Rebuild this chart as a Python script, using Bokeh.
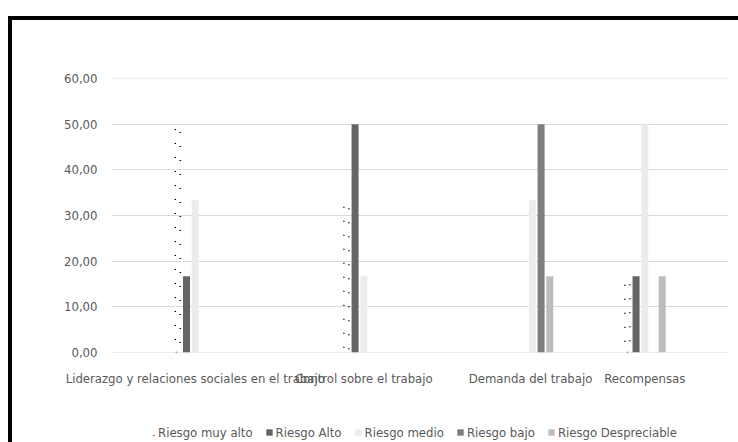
from bokeh.plotting import figure
from bokeh.models import FixedTicker, Range1d, Legend, LegendItem, ColumnDataSource
from bokeh.layouts import column
from bokeh.embed import file_html
from bokeh.resources import INLINE
from bokeh.transform import dodge

categories = ["Liderazgo y relaciones sociales en el trabajo", "Control sobre el trabajo",
              "Demanda  del trabajo", "Recompensas"]
cat_pos = [0, 3, 6, 8]
series_names = ["Riesgo muy alto", "Riesgo Alto", "Riesgo medio", "Riesgo bajo", "Riesgo Despreciable"]
riesgo_muy_alto = [50.00, 33.33, 0.00, 16.67]
riesgo_alto = [16.67, 50.00, 0.00, 16.67]
riesgo_medio = [33.33, 16.67, 33.33, 50.00]
riesgo_bajo = [0.00, 0.00, 50.00, 0.00]
riesgo_despreciable = [0.00, 0.00, 16.67, 16.67]
y_ticks = [0, 10, 20, 30, 40, 50, 60]
y_tick_labels = ["0,00", "10,00", "20,00", "30,00", "40,00", "50,00", "60,00"]

FONT = "'DejaVu Sans Condensed', 'Liberation Sans', sans-serif"
FSIZE = "13px"
TXT = "#595959"

src = ColumnDataSource(dict(x=cat_pos, muy_alto=riesgo_muy_alto, alto=riesgo_alto,
                            medio=riesgo_medio, bajo=riesgo_bajo, desp=riesgo_despreciable))

x_range = Range1d(-1.49, 9.49)
p = figure(width=726, height=382, output_backend="svg", toolbar_location=None,
           x_range=x_range, y_range=Range1d(0, 60),
           min_border_left=99, min_border_right=10, min_border_top=58, min_border_bottom=50)
p.outline_line_color = None
p.xgrid.grid_line_color = None
p.ygrid.grid_line_color = None

# horizontal gridlines at the tick values
p.hspan(y=y_ticks, line_color="#d9d9d9", line_width=1)

# legend strip: same glyphs, value range far outside the data so only the legend shows
p_leg = figure(width=726, height=40, output_backend="svg", toolbar_location=None,
               x_range=x_range, y_range=Range1d(1000, 1001),
               x_axis_type=None, y_axis_type=None,
               min_border_left=99, min_border_right=10, min_border_top=0, min_border_bottom=0)
p_leg.outline_line_color = None
p_leg.xgrid.grid_line_color = None
p_leg.ygrid.grid_line_color = None

step = 0.155
cols = ["muy_alto", "alto", "medio", "bajo", "desp"]
colors = [None, "#656565", "#ececec", "#7f7f7f", "#bcbcbc"]
dotted = dict(fill_alpha=0.0, line_color="black", line_width=1.5,
              line_dash="1 13", line_dash_offset=1)

leg_renderers = []
for i, c in enumerate(cols):
    off = (i - 2) * step
    for fig in (p, p_leg):
        if c == "muy_alto":
            r = fig.vbar(x=dodge("x", off, range=x_range), top=c, width=0.09, source=src, **dotted)
        else:
            r = fig.vbar(x=dodge("x", off, range=x_range), top=c, width=0.125, source=src,
                         fill_color=colors[i], line_color=None)
    leg_renderers.append(r)

p.yaxis.ticker = FixedTicker(ticks=y_ticks)
p.yaxis.major_label_overrides = {t: l for t, l in zip(y_ticks, y_tick_labels)}
p.xaxis.ticker = FixedTicker(ticks=cat_pos)
p.xaxis.major_label_overrides = {t: l for t, l in zip(cat_pos, categories)}
for ax in (p.xaxis, p.yaxis):
    ax.axis_line_color = None
    ax.major_tick_line_color = None
    ax.minor_tick_line_color = None
    ax.major_tick_out = 0
    ax.major_tick_in = 0
    ax.major_label_text_font = FONT
    ax.major_label_text_font_size = FSIZE
    ax.major_label_text_color = TXT
p.yaxis.major_label_standoff = 14
p.xaxis.major_label_standoff = 18

legend = Legend(items=[LegendItem(label=n, renderers=[r]) for n, r in zip(series_names, leg_renderers)],
                orientation="horizontal", location=(36, 2),
                label_text_font=FONT, label_text_font_size=FSIZE, label_text_color=TXT,
                glyph_width=8, glyph_height=8, label_standoff=3, spacing=12,
                border_line_color=None, background_fill_alpha=0.0, padding=0, margin=0,
                label_height=16)
p_leg.add_layout(legend, "center")

inner = column(p, p_leg, spacing=0, margin=(4, 0, 0, 4), styles={"background-color": "white"})
layout = column(inner, margin=(16, 0, 0, 8), styles={"background-color": "black"})

with open("out.html", "w") as f:
    f.write(file_html(layout, INLINE))
